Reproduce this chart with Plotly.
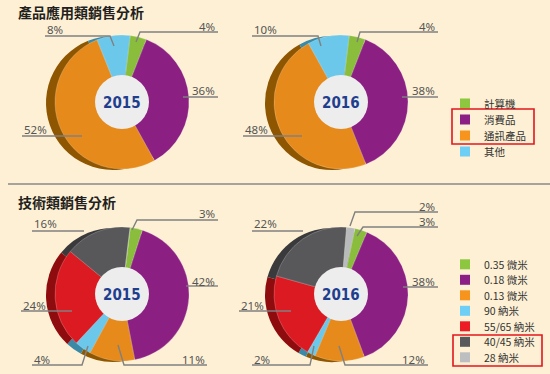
import plotly.graph_objects as go

W, H = 550, 374

# ---------------- data ----------------
section_titles = ["產品應用類銷售分析", "技術類銷售分析"]
years = ["2015", "2016"]

product_labels = ["計算機", "消費品", "通訊產品", "其他"]
product_2015 = [4, 36, 52, 8]
product_2016 = [4, 38, 48, 10]

tech_labels = ["0.35 微米", "0.18 微米", "0.13 微米", "90 納米", "55/65 納米", "40/45 納米", "28 納米"]
tech_2015 = [3, 42, 11, 4, 24, 16, 0]
tech_2016 = [3, 38, 12, 2, 21, 22, 2]

# ---------------- styles ----------------
BG = "#FDF0D4"
product_colors = ["#8BBD3C", "#8B1F82", "#E68A1C", "#6CC8EA"]
product_shadow = ["#5B8128", "#5C1358", "#8E5600", "#3A89A6"]
product_legend = ["#8DC63F", "#8B1F85", "#F7941D", "#6DCFF6"]
tech_colors = ["#8BBD3C", "#8B1F82", "#E68A1C", "#6CC8EA", "#DC1A22", "#58585A", "#B9BABC"]
tech_shadow = ["#5B8128", "#5C1358", "#8E5600", "#3A89A6", "#8E0B0E", "#3A3A3C", "#8A8B8D"]
tech_legend = ["#8DC63F", "#8B1F85", "#F7941D", "#6DCFF6", "#ED1C24", "#58595B", "#BCBEC0"]

R = 67
HOLE_R = 27
SHADOW_DX, SHADOW_DY = -9, 1
YEAR_FONT = "DejaVu Sans Condensed, Liberation Sans Narrow, Arial Narrow, sans-serif"

def X(px):
    return px / W

def Y(py):
    return 1 - py / H

fig = go.Figure()
shapes = []
annotations = []

# pies: (values, colors, shadow colors, center, rotation, year, label layout)
pies = [
    (product_2015, product_colors, product_shadow, (122, 102), 7, years[0], {
        0: ("r", 217, 26, [(218, 32), (140, 32), (136, 42)]),
        1: ("r", 217, 91, [(218, 97), (183, 97)]),
        2: ("l", 22, 129, [(22, 136), (82, 136)]),
        3: ("l", 45, 30, [(45, 36), (110, 36), (114, 46)]),
    }),
    (product_2016, product_colors, product_shadow, (341, 102), 7, years[1], {
        0: ("r", 437, 26, [(438, 32), (360, 32), (357, 42)]),
        1: ("r", 437, 91, [(438, 97), (402, 97)]),
        2: ("l", 243, 129, [(243, 136), (302, 136)]),
        3: ("l", 252, 30, [(252, 36), (318, 36), (321, 46)]),
    }),
    (tech_2015, tech_colors, tech_shadow, (122, 294), 7, years[0], {
        0: ("r", 217, 214, [(218, 220), (137, 220), (132, 230)]),
        1: ("r", 217, 281, [(218, 286), (186, 286)]),
        2: ("r", 207, 359, [(207, 365), (124, 365), (118, 345)]),
        3: ("l", 32, 359, [(32, 365), (82, 365), (88, 346)]),
        4: ("l", 21, 305, [(21, 311), (72, 311)]),
        5: ("l", 32, 224, [(32, 231), (84, 231)]),
    }),
    (tech_2016, tech_colors, tech_shadow, (341, 294), 12, years[1], {
        6: ("r", 437, 206, [(438, 212), (355, 212), (350, 226)]),
        0: ("r", 437, 221, [(438, 227), (363, 227), (357, 236)]),
        1: ("r", 437, 281, [(438, 287), (403, 287)]),
        2: ("r", 427, 359, [(428, 365), (345, 365), (339, 346)]),
        3: ("l", 252, 359, [(252, 365), (310, 365), (314, 346)]),
        4: ("l", 239, 305, [(239, 311), (291, 311)]),
        5: ("l", 252, 224, [(252, 231), (303, 231)]),
    }),
]

for values, colors, shadow, (cx, cy), rot, year, layout in pies:
    # 3D-ish shadow copy, shifted left
    sx, sy = cx + SHADOW_DX, cy + SHADOW_DY
    fig.add_trace(go.Pie(
        values=values, sort=False, direction="clockwise", rotation=rot,
        marker=dict(colors=shadow, line=dict(width=0)),
        textinfo="none", hoverinfo="skip", showlegend=False,
        domain=dict(x=[X(sx - R), X(sx + R)], y=[Y(sy + R), Y(sy - R)]),
    ))
    fig.add_trace(go.Pie(
        values=values, sort=False, direction="clockwise", rotation=rot,
        marker=dict(colors=colors, line=dict(width=0.6, color="rgba(255,255,255,0.35)")),
        textinfo="none", hoverinfo="skip", showlegend=False,
        domain=dict(x=[X(cx - R), X(cx + R)], y=[Y(cy + R), Y(cy - R)]),
    ))
    # centre disc + year
    shapes.append(dict(type="circle", xref="paper", yref="paper", layer="above",
                       x0=X(cx - HOLE_R), x1=X(cx + HOLE_R),
                       y0=Y(cy + HOLE_R), y1=Y(cy - HOLE_R),
                       fillcolor="#EDEDED", line=dict(width=0)))
    annotations.append(dict(x=X(cx), y=Y(cy + 1), xref="paper", yref="paper",
                            text=f"<b>{year}</b>", showarrow=False,
                            xanchor="center", yanchor="middle",
                            font=dict(family=YEAR_FONT, size=15, color="#1F3E8E")))
    # percentage labels with leader lines
    for idx, (side, tx, ty, pts) in layout.items():
        if values[idx] <= 0:
            continue
        path = "M " + " L ".join(f"{X(px)} {Y(py)}" for px, py in pts)
        shapes.append(dict(type="path", path=path, xref="paper", yref="paper",
                           layer="above", line=dict(color="#808080", width=1.4)))
        annotations.append(dict(x=X(tx), y=Y(ty), xref="paper", yref="paper",
                                text=f"{values[idx]}%", showarrow=False,
                                xanchor="right" if side == "r" else "left",
                                yanchor="middle",
                                font=dict(family="Noto Sans", size=11.5, color="#555555")))

# section titles
for title, ty in zip(section_titles, [12, 202]):
    annotations.append(dict(x=X(16), y=Y(ty), xref="paper", yref="paper",
                            text=f"<b>{title}</b>", showarrow=False,
                            xanchor="left", yanchor="middle",
                            font=dict(family="Noto Sans CJK TC", size=14, color="#231F20")))

# separator line
shapes.append(dict(type="line", xref="paper", yref="paper", layer="below",
                   x0=X(8), x1=X(550), y0=Y(184), y1=Y(184),
                   line=dict(color="#8A8A8A", width=1.5)))

# custom legends
def add_legend(labels, colors, y0, step):
    for i, (lab, col) in enumerate(zip(labels, colors)):
        yc = y0 + i * step
        shapes.append(dict(type="rect", xref="paper", yref="paper", layer="above",
                           x0=X(460), x1=X(470), y0=Y(yc + 5), y1=Y(yc - 5),
                           fillcolor=col, line=dict(width=0)))
        annotations.append(dict(x=X(482), y=Y(yc), xref="paper", yref="paper",
                                text=lab, showarrow=False, xanchor="left", yanchor="middle",
                                font=dict(family="Noto Sans CJK TC", size=10.5, color="#333333")))

add_legend(product_labels, product_legend, 103.5, 16)
add_legend(tech_labels, tech_legend, 264.3, 15.5)

# red highlight boxes
for x0, x1, y0, y1 in [(452, 534, 109, 144), (453, 542, 335, 366)]:
    shapes.append(dict(type="rect", xref="paper", yref="paper", layer="above",
                       x0=X(x0), x1=X(x1), y0=Y(y1), y1=Y(y0),
                       line=dict(color="#E3161C", width=1.6), fillcolor="rgba(0,0,0,0)"))

fig.update_layout(
    width=W, height=H,
    margin=dict(l=0, r=0, t=0, b=0),
    paper_bgcolor=BG, plot_bgcolor=BG,
    showlegend=False,
    shapes=shapes,
    annotations=annotations,
)

fig.write_html("out.html", config={"displayModeBar": False},
               post_script="document.body.style.margin='0';document.body.style.padding='0';")
